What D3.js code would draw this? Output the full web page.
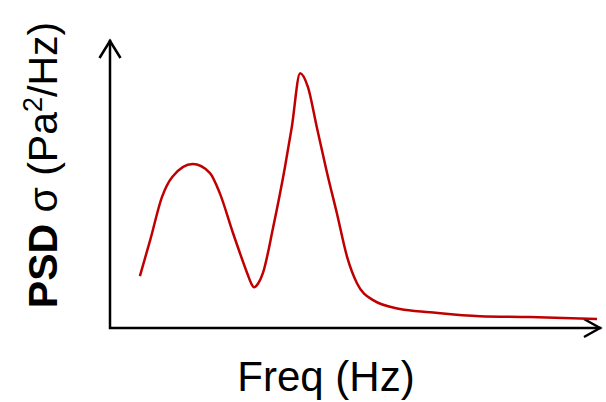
<!DOCTYPE html>
<html>
<head>
<meta charset="utf-8">
<script src="https://cdn.jsdelivr.net/npm/d3@7"></script>
<style>
  body { margin: 0; background: #fff; }
  text { font-family: Arial, "Liberation Sans", sans-serif; }
</style>
</head>
<body>
<div id="chart"></div>
<script>
// ---------------------- data (arbitrary units) ----------------------
var freq = [6.1, 8.2, 10.6, 12.7, 16.9, 20.4, 22.4, 25.1, 28.0, 28.8, 29.4, 30.2, 31.2, 33.3, 35.7, 37.1,
            38.8, 40.4, 42.2, 44.3, 46.3, 48.4, 50.4, 53.7, 59.2, 65.3, 75.5, 85.7, 99.4];
var psd  = [18.1, 30.6, 45.6, 52.6, 57.1, 54.0, 47.0, 33.1, 19.1, 15.6, 14.2, 15.4, 19.1, 35.1, 56.0, 70.0,
            88.8, 83.9, 70.0, 54.0, 40.0, 24.7, 15.6, 9.7, 6.6, 5.5, 4.1, 3.8, 3.1];
var xLabel = "Freq (Hz)";

// ---------------------- svg ----------------------
var svg = d3.select("#chart")
     .append("svg")
     .attr("width", 606)
     .attr("height", 402);

var x = d3.scaleLinear().domain([0, 100]).range([110, 600]);
var y = d3.scaleLinear().domain([0, 100]).range([328, 41]);

// ---------------------- axes with open arrow heads ----------------------
var axes = svg.append("g")
     .attr("fill", "none")
     .attr("stroke", "#000")
     .attr("stroke-width", 2.5)
     .attr("stroke-linecap", "square");

axes.append("path")
     .attr("d", "M" + x(0) + "," + y(100) + "V" + y(0) + "H" + x(100));

// y arrow
axes.append("path")
     .attr("stroke-linecap", "butt")
     .attr("d", "M" + (x(0) - 10.5) + "," + (y(100) + 17) + "L" + x(0) + "," + y(100) + "L" + (x(0) + 10.5) + "," + (y(100) + 17));
// x arrow
axes.append("path")
     .attr("stroke-linecap", "butt")
     .attr("d", "M" + (x(100) - 16) + "," + (y(0) - 9) + "L" + x(100) + "," + y(0) + "L" + (x(100) - 16) + "," + (y(0) + 9));

// ---------------------- the PSD curve ----------------------
var line = d3.line()
     .x(function(d, i) { return x(freq[i]); })
     .y(function(d) { return y(d); })
     .curve(d3.curveMonotoneX);

svg.append("path")
     .datum(psd)
     .attr("d", line)
     .attr("fill", "none")
     .attr("stroke", "#c00000")
     .attr("stroke-width", 2.5);

// ---------------------- labels ----------------------
svg.append("text")
     .attr("x", 326)
     .attr("y", 391)
     .attr("text-anchor", "middle")
     .style("font-size", "42px")
     .text(xLabel);

var yl = svg.append("text")
     .attr("transform", "translate(57,165) rotate(-90)")
     .attr("text-anchor", "middle")
     .style("font-size", "41px");
yl.append("tspan").style("font-weight", "bold").text("PSD");
yl.append("tspan").text(" \u03C3 (Pa");
yl.append("tspan").attr("dy", -15).style("font-size", "27px").text("2");
yl.append("tspan").attr("dy", 15).text("/Hz)");
</script>
</body>
</html>
